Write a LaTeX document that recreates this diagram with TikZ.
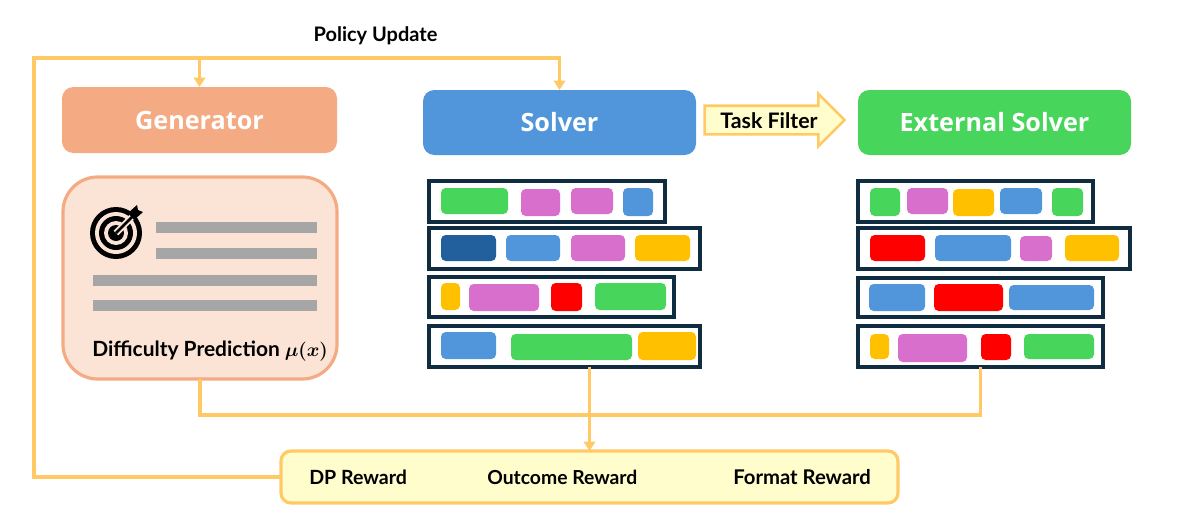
\documentclass[tikz,border=0pt]{standalone}
\usepackage{fontspec}
\setmainfont{Lato}
\newfontfamily\headfont{Open Sans}
\usetikzlibrary{arrows.meta,shapes.arrows}
\definecolor{wireY}{HTML}{FFC966}
\definecolor{pale}{HTML}{FFFDCB}
\definecolor{navy}{HTML}{0F2C40}
\definecolor{cGreen}{HTML}{47D55B}
\definecolor{cPink}{HTML}{D86FCC}
\definecolor{cBlue}{HTML}{5196DB}
\definecolor{cAmber}{HTML}{FFC000}
\definecolor{cRed}{HTML}{FF0000}
\definecolor{cDark}{HTML}{21609C}
\definecolor{cPeach}{HTML}{F4AB84}
\definecolor{cCard}{HTML}{FBE3D6}
\definecolor{cBar}{HTML}{A6A6A6}
\newcommand{\px}{0.75pt}
\newcommand{\lblsize}[1]{\fontsize{#1}{#1}\selectfont}
\tikzset{
  x=0.75pt,y=-0.75pt,
  wire/.style={draw=wireY,line width=2.4pt},
  tipped/.style={wire,-{Triangle[length=7pt,width=8.5pt]}},
  header/.style={rounded corners=8.5pt,minimum width=273*\px,minimum height=65*\px,outer sep=0pt,inner sep=0pt,text=white,font=\headfont\bfseries\fontsize{18.9}{22}\selectfont},
  frame/.style={draw=navy,fill=white,line width=2.3pt,anchor=north west,outer sep=0pt,inner sep=0pt},
  chip/.style={rounded corners=3.5pt},
  bar/.style={fill=cBar},
  lbl/.style={font=\bfseries,text=black,inner sep=0pt},
}
\newcommand{\chipbox}[5]{\fill[chip,#5] (#1,#2) rectangle (#3,#4);}
\begin{document}
\begin{tikzpicture}
\useasboundingbox (0,0) rectangle (1187,517);
% headers
\node[header,fill=cPeach,minimum width=275*\px,minimum height=66*\px] (gen) at (199.5,120) {\raisebox{-0.6pt}{Generator}};
\node[header,fill=cBlue] (solver) at (559.5,122.5) {\raisebox{-0.6pt}{Solver}};
\node[header,fill=cGreen] (ext) at (994.5,122.5) {\raisebox{-0.6pt}{External Solver}};
% card
\node[draw=cPeach,fill=cCard,line width=2.4pt,rounded corners=26pt,minimum width=274*\px,minimum height=202*\px,outer sep=0pt,inner sep=0pt] (card) at (200,278) {};
\fill[bar] (156,222) rectangle (317,233);
\fill[bar] (156,248) rectangle (317,259);
\fill[bar] (93,275) rectangle (317,286);
\fill[bar] (93,300) rectangle (317,311);
% target icon
\fill[black] (116,233) circle [radius=26*\px];
\fill[cCard] (116,233) circle [radius=21*\px];
\fill[black] (116,233) circle [radius=17*\px];
\fill[cCard] (116,233) circle [radius=12*\px];
\fill[black] (116,233) circle [radius=8*\px];
\draw[cCard,line width=5pt] (116,233) -- (138,211);
\draw[black,line width=2pt] (116,233) -- (134,215);
\fill[black] (128,213) -- (137,205) -- (138,210) -- (143,212) -- (134,220) -- cycle;
\node[lbl,anchor=west] (dp) at (92,351) {\lblsize{15.7}Difficulty Prediction {\lblsize{14}\boldmath$\mu(x)$}};
% solver rows
\node[frame,minimum width=236*\px,minimum height=41*\px] (s1) at (429,181) {};
\node[frame,minimum width=271*\px,minimum height=41*\px] (s2) at (429,228) {};
\node[frame,minimum width=245*\px,minimum height=40*\px] (s3) at (429,277) {};
\node[frame,minimum width=271*\px,minimum height=41*\px] (s4) at (429,326) {};
\chipbox{441}{188}{508}{214}{cGreen}
\chipbox{521}{189}{560}{216}{cPink}
\chipbox{571}{188}{613}{214}{cPink}
\chipbox{623}{188}{653}{216}{cBlue}
\chipbox{441}{235}{496}{261}{cDark}
\chipbox{506}{235}{560}{261}{cBlue}
\chipbox{571}{235}{625}{261}{cPink}
\chipbox{635}{235}{690}{261}{cAmber}
\chipbox{441}{283}{460}{310}{cAmber}
\chipbox{469}{284}{539}{311}{cPink}
\chipbox{551}{283}{582}{311}{cRed}
\chipbox{595}{283}{666}{310}{cGreen}
\chipbox{441}{332}{496}{359}{cBlue}
\chipbox{511}{334}{632}{360}{cGreen}
\chipbox{638}{332}{696}{360}{cAmber}
% external rows
\node[frame,minimum width=235*\px,minimum height=41*\px] (e1) at (858,181) {};
\node[frame,minimum width=272*\px,minimum height=41*\px] (e2) at (858,228) {};
\node[frame,minimum width=245*\px,minimum height=39*\px] (e3) at (858,278) {};
\node[frame,minimum width=245*\px,minimum height=41*\px] (e4) at (858,326) {};
\chipbox{870}{188}{900}{216}{cGreen}
\chipbox{907}{188}{948}{214}{cPink}
\chipbox{953}{189}{994}{216}{cAmber}
\chipbox{1000}{188}{1042}{214}{cBlue}
\chipbox{1052}{188}{1083}{216}{cGreen}
\chipbox{870}{235}{925}{261}{cRed}
\chipbox{935}{235}{1011}{261}{cBlue}
\chipbox{1020}{236}{1052}{261}{cPink}
\chipbox{1065}{235}{1119}{261}{cAmber}
\chipbox{869}{284}{925}{311}{cBlue}
\chipbox{934}{284}{1003}{311}{cRed}
\chipbox{1009}{285}{1094}{310}{cBlue}
\chipbox{870}{334}{889}{359}{cAmber}
\chipbox{898}{334}{967}{362}{cPink}
\chipbox{981}{334}{1011}{360}{cRed}
\chipbox{1024}{334}{1094}{359}{cGreen}
% reward box
\node[draw=wireY,fill=pale,line width=2.4pt,rounded corners=7.5pt,minimum width=617*\px,minimum height=52*\px,outer sep=0pt,inner sep=0pt] (reward) at (589.5,477) {};
\node[lbl,anchor=west] (r1) at (309,477.5) {\lblsize{14.7}DP Reward};
\node[lbl,anchor=west] (r2) at (487,477.5) {\lblsize{14.5}Outcome Reward};
\node[lbl,anchor=west] (r3) at (733,477.5) {\lblsize{15.2}Format Reward};
% task filter
\node[single arrow,draw=wireY,fill=pale,line width=1.9pt,minimum height=140*\px,minimum width=50*\px,single arrow head extend=12*\px,single arrow tip angle=90,inner sep=0pt,outer sep=0pt,text height=26*\px,text width=10pt] (filter) at (767.5,120) {};
\node[lbl] (filterlbl) at (769,121) {\lblsize{16}Task Filter};
% policy label
\node[lbl] (policy) at (375.5,36) {\lblsize{15}Policy Update};
% connectors
\coordinate (tl) at (34,58);
\coordinate (bus) at (589.5,415);
\draw[tipped] (reward.west) -| (tl) -| (solver.north);
\draw[tipped] (gen.north |- tl) -- (gen.north);
\draw[wire] (card.south) |- (bus) -| (e4.south);
\draw[tipped] (reward.north |- s4.south) -- (reward.north);
\end{tikzpicture}
\end{document}
